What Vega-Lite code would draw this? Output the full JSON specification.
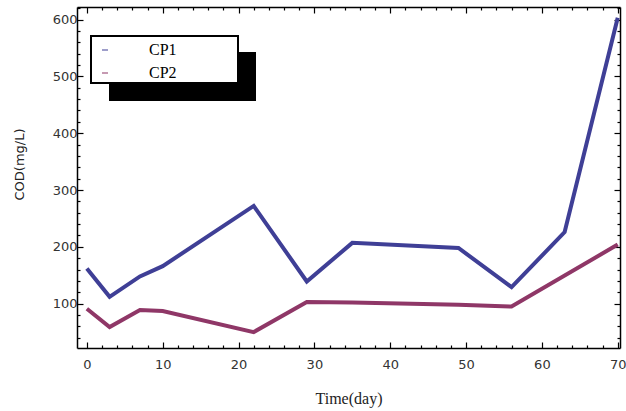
{
  "$schema": "https://vega.github.io/schema/vega-lite/v6.json",
  "width": 543,
  "height": 341,
  "autosize": "none",
  "padding": {"left": 77, "top": 7, "right": 6, "bottom": 63},
  "background": "white",
  "config": {
    "view": {"stroke": null},
    "axis": {
      "grid": false,
      "domainColor": "black",
      "domainWidth": 1.5,
      "tickColor": "black",
      "tickWidth": 1.2,
      "labelFont": "DejaVu Sans",
      "labelFontSize": 13,
      "labelColor": "#333",
      "titleColor": "#222",
      "titleFontWeight": "normal"
    }
  },
  "data": {
    "values": [
      {"day": 0, "series": "CP1", "cod": 162},
      {"day": 3, "series": "CP1", "cod": 112},
      {"day": 7, "series": "CP1", "cod": 148},
      {"day": 10, "series": "CP1", "cod": 166},
      {"day": 22, "series": "CP1", "cod": 272},
      {"day": 29, "series": "CP1", "cod": 139},
      {"day": 35, "series": "CP1", "cod": 207},
      {"day": 49, "series": "CP1", "cod": 198},
      {"day": 56, "series": "CP1", "cod": 129},
      {"day": 63, "series": "CP1", "cod": 226},
      {"day": 70, "series": "CP1", "cod": 603},
      {"day": 0, "series": "CP2", "cod": 91},
      {"day": 3, "series": "CP2", "cod": 59},
      {"day": 7, "series": "CP2", "cod": 89},
      {"day": 10, "series": "CP2", "cod": 87},
      {"day": 22, "series": "CP2", "cod": 50},
      {"day": 29, "series": "CP2", "cod": 103},
      {"day": 35, "series": "CP2", "cod": 102},
      {"day": 49, "series": "CP2", "cod": 98},
      {"day": 56, "series": "CP2", "cod": 95},
      {"day": 70, "series": "CP2", "cod": 204}
    ]
  },
  "layer": [
    {
      "description": "legend drop shadow; carries the frame's top and right edges with major ticks",
      "mark": {"type": "rect", "color": "black"},
      "encoding": {
        "x": {
          "datum": 2.92,
          "type": "quantitative",
          "scale": {"domain": [-1.3, 70.3], "nice": false, "zero": false},
          "axis": {
            "orient": "top",
            "title": null,
            "labels": false,
            "values": [0, 10, 20, 30, 40, 50, 60, 70],
            "tickSize": -6
          }
        },
        "x2": {"datum": 22.3},
        "y": {
          "datum": 542.8,
          "type": "quantitative",
          "scale": {"domain": [22, 622], "nice": false, "zero": false},
          "axis": {
            "orient": "right",
            "title": null,
            "labels": false,
            "values": [100, 200, 300, 400, 500, 600],
            "tickSize": -6
          }
        },
        "y2": {"datum": 456.6}
      }
    },
    {
      "description": "legend box fill; carries the minor ticks of the top and right edges",
      "mark": {"type": "rect", "fill": "white"},
      "encoding": {
        "x": {
          "datum": 0.55,
          "type": "quantitative",
          "axis": {
            "orient": "top",
            "domain": false,
            "title": null,
            "labels": false,
            "values": [2, 4, 6, 8, 12, 14, 16, 18, 22, 24, 26, 28, 32, 34, 36, 38, 42, 44, 46, 48, 52, 54, 56, 58, 62, 64, 66, 68],
            "tickSize": -3
          }
        },
        "x2": {"datum": 19.93},
        "y": {
          "datum": 571,
          "type": "quantitative",
          "axis": {
            "orient": "right",
            "domain": false,
            "title": null,
            "labels": false,
            "values": [40, 60, 80, 120, 140, 160, 180, 220, 240, 260, 280, 320, 340, 360, 380, 420, 440, 460, 480, 520, 540, 560, 580, 620],
            "tickSize": -3
          }
        },
        "y2": {"datum": 488.3}
      }
    },
    {
      "description": "legend box border; carries the minor ticks of the bottom and left axes",
      "mark": {"type": "rect", "fill": null, "stroke": "black", "strokeWidth": 1.5},
      "encoding": {
        "x": {
          "datum": 0.55,
          "type": "quantitative",
          "axis": {
            "orient": "bottom",
            "domain": false,
            "title": null,
            "labels": false,
            "values": [2, 4, 6, 8, 12, 14, 16, 18, 22, 24, 26, 28, 32, 34, 36, 38, 42, 44, 46, 48, 52, 54, 56, 58, 62, 64, 66, 68],
            "tickSize": -3
          }
        },
        "x2": {"datum": 19.93},
        "y": {
          "datum": 571,
          "type": "quantitative",
          "axis": {
            "orient": "left",
            "domain": false,
            "title": null,
            "labels": false,
            "values": [40, 60, 80, 120, 140, 160, 180, 220, 240, 260, 280, 320, 340, 360, 380, 420, 440, 460, 480, 520, 540, 560, 580, 620],
            "tickSize": -3
          }
        },
        "y2": {"datum": 488.3}
      }
    },
    {
      "mark": {"type": "line", "strokeWidth": 4, "strokeJoin": "miter"},
      "encoding": {
        "x": {
          "field": "day",
          "type": "quantitative",
          "axis": {
            "orient": "bottom",
            "tickSize": -6,
            "title": "Time(day)",
            "titleFont": "Liberation Serif",
            "titleFontSize": 16,
            "titlePadding": 19,
            "values": [0, 10, 20, 30, 40, 50, 60, 70],
            "labelPadding": 16
          }
        },
        "y": {
          "field": "cod",
          "type": "quantitative",
          "axis": {
            "orient": "left",
            "tickSize": -6,
            "title": "COD(mg/L)",
            "titleFont": "DejaVu Sans",
            "titleFontSize": 13,
            "titlePadding": 26,
            "titleY": 157,
            "values": [100, 200, 300, 400, 500, 600],
            "labelPadding": 6
          }
        },
        "color": {
          "field": "series",
          "type": "nominal",
          "scale": {"domain": ["CP1", "CP2"], "range": ["#3f3f96", "#8f3767"]},
          "legend": {
            "title": null,
            "orient": "none",
            "legendX": 14,
            "legendY": 29,
            "padding": 6,
            "symbolType": "stroke",
            "symbolSize": 36,
            "symbolStrokeWidth": 2,
            "symbolOpacity": 0.5,
            "labelFont": "Liberation Serif",
            "labelFontSize": 16,
            "labelColor": "black",
            "labelOffset": 36,
            "rowPadding": 7
          }
        }
      }
    }
  ],
  "resolve": {"axis": {"x": "independent", "y": "independent"}}
}
